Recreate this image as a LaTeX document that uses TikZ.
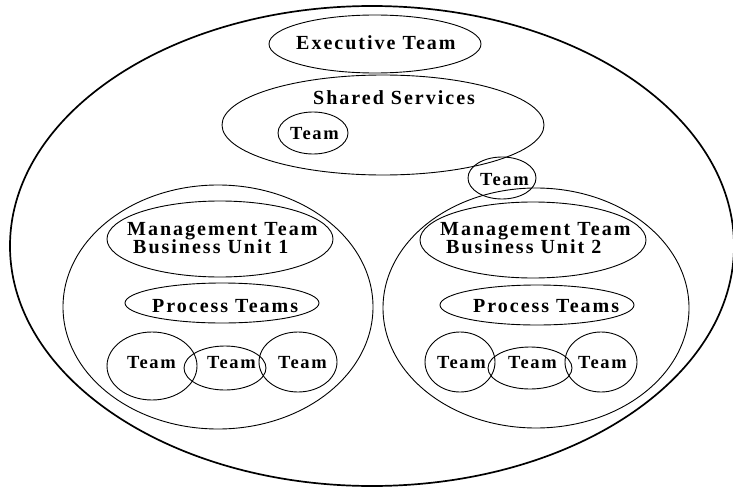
\documentclass[tikz,border=0pt]{standalone}
\usepackage{fontspec}
\setmainfont{Liberation Serif}[LetterSpace=9]
\newfontfamily\wideserif{Liberation Serif}[LetterSpace=10]
\usetikzlibrary{shapes.geometric}
\begin{document}
\begin{tikzpicture}[x=1pt,y=-1pt,
  ring/.style={draw=black,line width=0.9pt,ellipse,inner sep=0pt},
  lbl/.style={anchor=base west,inner sep=0pt,font=\wideserif\fontsize{20}{17}\selectfont\bfseries},
  tlbl/.style={anchor=base west,inner sep=0pt,font=\fontsize{18.5}{18.5}\selectfont\bfseries}]
\useasboundingbox (0,0) rectangle (733,487);
% ellipses
\node[ring,line width=1.7pt,minimum width=724pt,minimum height=480pt] (outer) at (372,246) {};
\node[ring,minimum width=212pt,minimum height=58pt] (exec) at (375,44) {};
\node[ring,minimum width=322pt,minimum height=100pt] (shared) at (383,125) {};
\node[ring,minimum width=70pt,minimum height=42pt] (teamS) at (313,133) {};
\node[ring,minimum width=68pt,minimum height=42pt] (teamTop) at (502,178) {};
\node[ring,minimum width=310pt,minimum height=244pt] (bu1) at (218,307) {};
\node[ring,minimum width=226pt,minimum height=76pt] (mgmt1) at (220,239) {};
\node[ring,minimum width=194pt,minimum height=40pt] (proc1) at (222,303) {};
\node[ring,minimum width=90pt,minimum height=68pt] (t1a) at (152,366) {};
\node[ring,minimum width=82pt,minimum height=44pt] (t1b) at (225,368) {};
\node[ring,minimum width=78pt,minimum height=60pt] (t1c) at (298,362) {};
\node[ring,minimum width=306pt,minimum height=240pt] (bu2) at (536,308) {};
\node[ring,minimum width=226pt,minimum height=76pt] (mgmt2) at (533,240) {};
\node[ring,minimum width=194pt,minimum height=40pt] (proc2) at (537,305) {};
\node[ring,minimum width=70pt,minimum height=60pt] (t2a) at (460,362) {};
\node[ring,minimum width=84pt,minimum height=42pt] (t2b) at (530,368) {};
\node[ring,minimum width=72pt,minimum height=60pt] (t2c) at (601,362) {};
% labels
\node[lbl] (lexec) at (296,50) {Executive Team};
\node[lbl] (lshared) at (313,104) {Shared Services};
\node[tlbl] (lteamS) at (290,139) {Team};
\node[tlbl] (lteamTop) at (480,185) {Team};
\node[lbl] (lm1) at (127,235) {\begin{tabular}[t]{@{}l@{}}Management Team\\\hspace{6pt}Business Unit 1\end{tabular}};
\node[lbl] (lp1) at (152,312) {Process Teams};
\node[tlbl] (lt1a) at (127,368) {Team};
\node[tlbl] (lt1b) at (207,368) {Team};
\node[tlbl] (lt1c) at (278,368) {Team};
\node[lbl] (lm2) at (440,235) {\begin{tabular}[t]{@{}l@{}}Management Team\\\hspace{6pt}Business Unit 2\end{tabular}};
\node[lbl] (lp2) at (473,312) {Process Teams};
\node[tlbl] (lt2a) at (437,368) {Team};
\node[tlbl] (lt2b) at (508,368) {Team};
\node[tlbl] (lt2c) at (578,368) {Team};
\end{tikzpicture}
\end{document}
